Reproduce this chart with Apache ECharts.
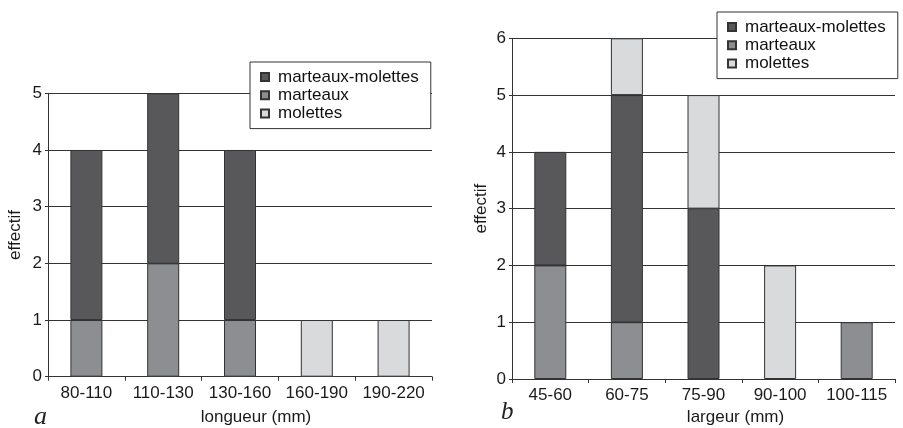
<!DOCTYPE html>
<html>
<head>
<meta charset="utf-8">
<script src="https://cdn.jsdelivr.net/npm/echarts@6/dist/echarts.min.js"></script>
<style>
  html, body { margin: 0; padding: 0; background: #fff; }
  #main { width: 903px; height: 428px; }
</style>
</head>
<body>
<div id="main"></div>
<script>
// --- données ---
var seriesNames = ['marteaux-molettes', 'marteaux', 'molettes'];

// graphique a : longueur
var catsA = ['80-110', '110-130', '130-160', '160-190', '190-220'];
var marteauxA = [1, 2, 1, 0, 0];
var marteauxMolettesA = [3, 3, 3, 0, 0];
var molettesA = [0, 0, 0, 1, 1];
var ticksA = [0, 1, 2, 3, 4, 5];

// graphique b : largeur
var catsB = ['45-60', '60-75', '75-90', '90-100', '100-115'];
var marteauxB = [2, 1, 0, 0, 1];
var marteauxMolettesB = [2, 4, 3, 0, 0];
var molettesB = [0, 1, 2, 2, 0];
var ticksB = [0, 1, 2, 3, 4, 5, 6];

var colors = {
  'marteaux-molettes': '#58585b',
  'marteaux': '#8d8e92',
  'molettes': '#d9dadc'
};

var chartDom = document.getElementById('main');
var myChart = echarts.init(chartDom);
var option;

var font = '"Liberation Sans", Arial, sans-serif';
var fs = 17;
var ink = '#1a1a1a';

function bar(name, data, idx, stack) {
  return {
    name: name,
    type: 'bar',
    stack: stack,
    xAxisIndex: idx,
    yAxisIndex: idx,
    barWidth: 32,
    // pas de barre pour les zéros
    data: data.map(function (v) { return v ? v : null; }),
    itemStyle: {
      color: colors[name],
      borderColor: '#333',
      borderWidth: 1
    },
    emphasis: { disabled: true }
  };
}

function xAxis(idx, cats, name, gap, shift) {
  return {
    type: 'category',
    gridIndex: idx,
    data: cats,
    name: name,
    nameLocation: 'middle',
    nameGap: gap,
    nameTextStyle: { fontFamily: font, fontSize: fs, color: ink, padding: [0, 0, 0, shift] },
    axisLine: { show: true, lineStyle: { color: '#333', width: 1 } },
    // petits traits entre les catégories
    axisTick: { show: true, length: 4, lineStyle: { color: '#333' } },
    axisLabel: { fontFamily: font, fontSize: fs, color: ink, margin: 8, interval: 0 },
    splitLine: { show: false }
  };
}

function yAxis(idx, ticks, gap) {
  return {
    type: 'value',
    gridIndex: idx,
    min: ticks[0],
    max: ticks[ticks.length - 1],
    interval: 1,
    name: 'effectif',
    nameLocation: 'middle',
    nameGap: gap,
    nameTextStyle: { fontFamily: font, fontSize: fs, color: ink },
    axisLine: { show: true, lineStyle: { color: '#333', width: 1 } },
    axisTick: { show: true, length: 3, lineStyle: { color: '#333' } },
    axisLabel: { fontFamily: font, fontSize: fs, color: ink, margin: 6 },
    splitLine: { show: true, lineStyle: { color: '#333', width: 1 } }
  };
}

function legend(left, top) {
  return {
    data: seriesNames,
    left: left,
    top: top,
    orient: 'vertical',
    icon: 'rect',
    itemWidth: 8,
    itemHeight: 8,
    itemGap: 1.3,
    padding: [6.5, 12, 6.5, 10],
    backgroundColor: '#fff',
    borderColor: '#333',
    borderWidth: 1,
    borderRadius: 0,
    selectedMode: false,
    textStyle: { fontFamily: font, fontSize: fs, color: '#111', lineHeight: 17, padding: [0, 0, 0, 4] }
  };
}

option = {
  animation: false,
  backgroundColor: '#fff',
  grid: [
    { left: 48, top: 93.3, width: 384, height: 283.4, outerBoundsMode: 'none' },
    { left: 512, top: 38.3, width: 383, height: 340.7, outerBoundsMode: 'none' }
  ],
  legend: [legend(250, 62), legend(717, 12)],
  xAxis: [
    xAxis(0, catsA, 'longueur (mm)', 32, 32),
    xAxis(1, catsB, 'largeur (mm)', 28, 64)
  ],
  yAxis: [yAxis(0, ticksA, 24), yAxis(1, ticksB, 22)],
  series: [
    // ordre d'empilement : marteaux en bas, puis marteaux-molettes, puis molettes
    bar('marteaux', marteauxA, 0, 'a'),
    bar('marteaux-molettes', marteauxMolettesA, 0, 'a'),
    bar('molettes', molettesA, 0, 'a'),
    bar('marteaux', marteauxB, 1, 'b'),
    bar('marteaux-molettes', marteauxMolettesB, 1, 'b'),
    bar('molettes', molettesB, 1, 'b')
  ],
  graphic: [
    {
      type: 'text', left: 34, top: 404,
      style: { text: 'a', font: 'italic 26px "Liberation Serif", serif', fill: '#222' }
    },
    {
      type: 'text', left: 501, top: 400,
      style: { text: 'b', font: 'italic 25px "Liberation Serif", serif', fill: '#222' }
    }
  ]
};

option && myChart.setOption(option);
</script>
</body>
</html>
